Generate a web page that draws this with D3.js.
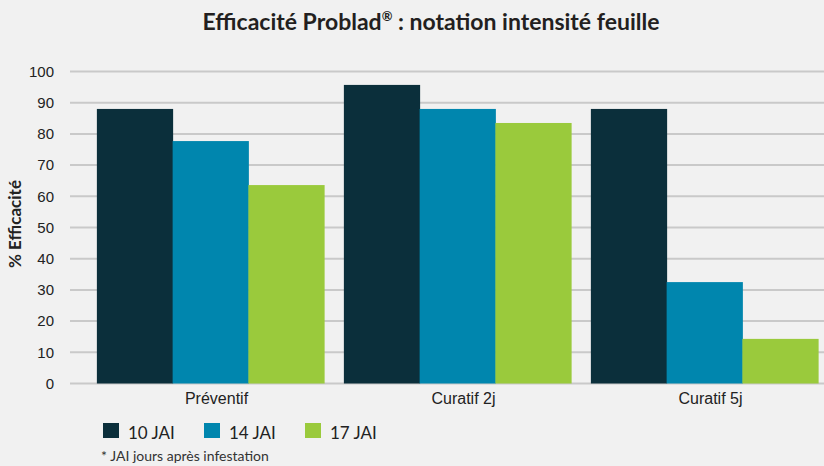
<!DOCTYPE html>
<html>
<head>
  <meta charset="utf-8">
  <title>Efficacité Problad</title>
  <script src="https://d3js.org/d3.v7.min.js"></script>
  <style>
    body { margin: 0; background: #f1f1f1; }
    svg { display: block; font-family: Lato, "Open Sans", sans-serif; }
    .grid line { stroke: #c9c9c9; stroke-width: 2px; }
    .yax .tick text { fill: #222; font-size: 15px; }
    .xax .tick text { fill: #222; font-size: 16px; }
  </style>
</head>
<body>
<svg width="824" height="466"></svg>
<script>
// data
var categories = ["Préventif", "Curatif 2j", "Curatif 5j"];
var series = ["10 JAI", "14 JAI", "17 JAI"];
var jai10 = [88, 95.7, 88];
var jai14 = [77.7, 88, 32.5];
var jai17 = [63.6, 83.5, 14.3];
var yTicks = [0, 10, 20, 30, 40, 50, 60, 70, 80, 90, 100];
var colors = ["#0b2f3b", "#0086ae", "#9aca3c"];

var values = [jai10, jai14, jai17];

var svg = d3.select("svg"),
    width = +svg.attr("width"),
    height = +svg.attr("height");

svg.append("rect").attr("width", width).attr("height", height).attr("fill", "#f1f1f1");

var y = d3.scaleLinear().domain([0, 100]).range([383.5, 71.5]);

var x = d3.scaleBand()
    .domain(categories)
    .range([87, 828])
    .paddingInner(0.08)
    .paddingOuter(0.04);

var xs = d3.scaleBand().domain(series).range([0, x.bandwidth()]);

// gridlines
svg.append("g")
    .attr("class", "grid")
    .selectAll("line")
    .data(yTicks)
    .enter()
    .append("line")
    .attr("x1", 70)
    .attr("x2", width)
    .attr("y1", function(d) { return y(d); })
    .attr("y2", function(d) { return y(d); });

// y axis labels
var yAxis = svg.append("g")
    .attr("class", "yax")
    .attr("transform", "translate(58,0)")
    .call(d3.axisLeft(y).tickValues(yTicks).tickSize(0).tickPadding(4));
yAxis.select(".domain").remove();

svg.append("text")
    .attr("transform", "translate(21,224) rotate(-90)")
    .attr("text-anchor", "middle")
    .attr("font-size", 17)
    .attr("font-weight", "bold")
    .attr("fill", "#222")
    .text("% Efficacité");

// bars
var groups = svg.append("g")
    .selectAll("g")
    .data(categories)
    .enter()
    .append("g")
    .attr("transform", function(d) { return "translate(" + x(d) + ",0)"; });

groups.selectAll("rect")
    .data(function(d, i) {
      return series.map(function(s, j) { return { s: s, v: values[j][i], c: colors[j] }; });
    })
    .enter()
    .append("rect")
    .attr("x", function(d) { return xs(d.s); })
    .attr("width", xs.bandwidth() + 0.5)
    .attr("y", function(d) { return y(d.v); })
    .attr("height", function(d) { return y(0) - y(d.v); })
    .attr("fill", function(d) { return d.c; });

// category labels
var xAxis = svg.append("g")
    .attr("class", "xax")
    .attr("transform", "translate(6,384)")
    .call(d3.axisBottom(x).tickSize(0).tickPadding(9));
xAxis.select(".domain").remove();

// title
var title = svg.append("text")
    .attr("x", 431)
    .attr("y", 30)
    .attr("text-anchor", "middle")
    .attr("font-size", 23)
    .attr("font-weight", "bold")
    .attr("fill", "#231f20");
title.append("tspan").text("Efficacité Problad");
title.append("tspan").attr("font-size", 13).attr("dy", -9).text("®");
title.append("tspan").attr("dy", 9).text(" : notation intensité feuille");

// legend
var legendX = [103, 204, 305];
var legend = svg.append("g")
    .selectAll("g")
    .data(series)
    .enter()
    .append("g")
    .attr("transform", function(d, i) { return "translate(" + legendX[i] + ",423)"; });

legend.append("rect")
    .attr("width", 16)
    .attr("height", 15)
    .attr("fill", function(d, i) { return colors[i]; });

legend.append("text")
    .attr("x", 25)
    .attr("y", 16)
    .attr("font-size", 17)
    .attr("fill", "#222")
    .text(function(d) { return d; });

svg.append("text")
    .attr("x", 101)
    .attr("y", 461)
    .attr("font-size", 14)
    .attr("fill", "#333")
    .text("* JAI jours après infestation");
</script>
</body>
</html>
